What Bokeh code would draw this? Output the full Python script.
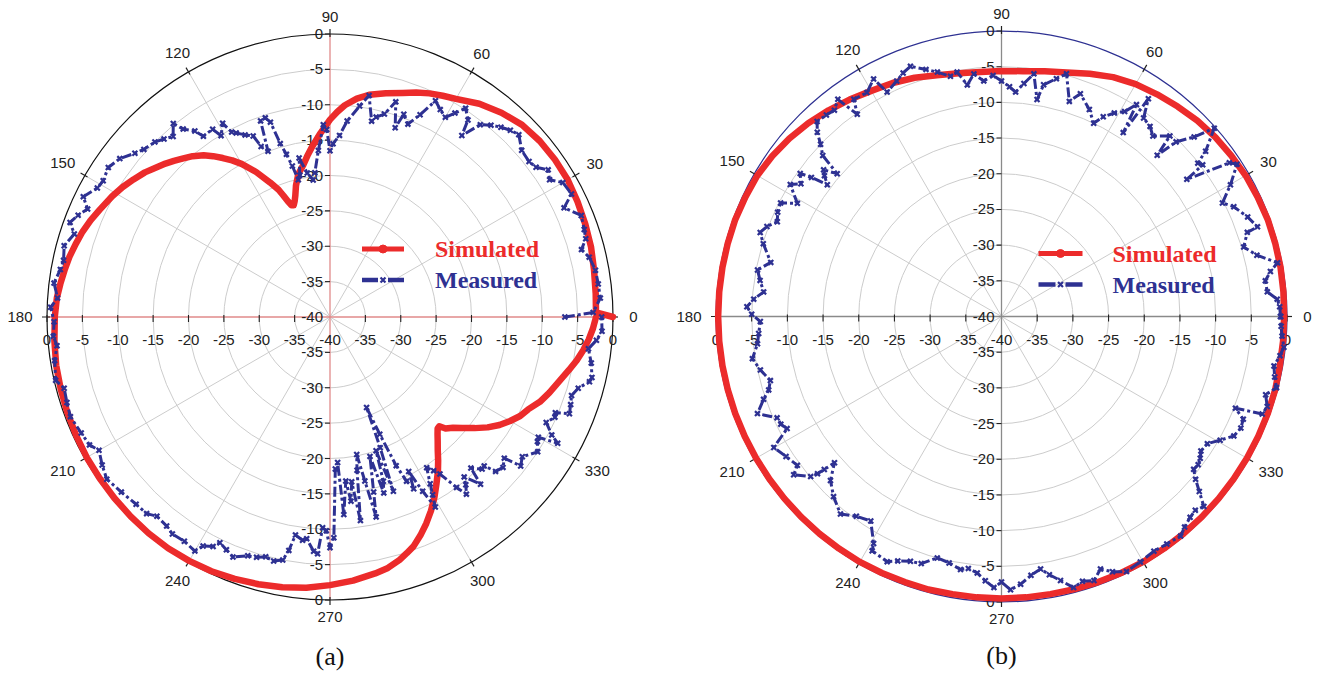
import numpy as np
from bokeh.plotting import figure
from bokeh.layouts import row
from bokeh.models import Range1d
from bokeh.embed import file_html
from bokeh.resources import INLINE
from bokeh.core.properties import value

RED = "#ec2b2b"
NAVY = "#2e3192"
DB_MIN = -40

ring_db = [-35, -30, -25, -20, -15, -10, -5]
radial_tick_db = [0, -5, -10, -15, -20, -25, -30, -35]
radial_tick_labels = ["0", "-5", "-10", "-15", "-20", "-25", "-30", "-35"]
center_label = "-40"
angle_ticks = [0, 30, 60, 90, 120, 150, 180, 210, 240, 270, 300, 330]
angle_tick_labels = ["0", "30", "60", "90", "120", "150", "180", "210", "240", "270", "300", "330"]
spoke_angles = [30, 60, 120, 150]
legend_labels = ["Simulated", "Measured"]
captions = ["(a)", "(b)"]

# ---------------- (a) ----------------
sim_a_ang = [0, 1, 5, 10, 15, 20, 25, 30, 35, 40, 45, 50, 55, 60, 63, 66, 69, 72, 76, 80, 83, 86,
             88, 90, 93, 96, 98, 100, 102.5, 104.5, 106, 107, 108, 109, 110, 111, 112, 114, 117,
             120, 122, 124, 126, 128, 130.5, 133, 135, 137, 140, 142, 145, 148, 151, 155, 158, 161,
             164, 167, 170, 173, 176, 180, 185, 190, 195, 200, 205, 210, 215, 220, 225, 230, 235,
             240, 245, 250, 255, 260, 265, 270, 275, 280, 283, 286, 288, 290, 292.5, 295, 297.5,
             300, 302.5, 305, 307, 309, 311, 312.5, 314, 315, 316, 318, 320, 322.5, 325, 327.5,
             330, 332.5, 335, 338, 341, 344.5, 347.5, 350, 352.5, 355, 357.5, 360]
sim_a_db = [0.0, -2.4, -2.3, -2.1, -1.8, -1.6, -1.4, -1.2, -1.2, -1.3, -1.6, -2.3, -3.2, -4.4,
            -4.9, -5.4, -6.0, -6.7, -7.4, -8.1, -8.9, -10.0, -11.0, -12.1, -14.0, -15.8, -17.0,
            -18.2, -19.3, -20.8, -22.2, -22.9, -23.4, -23.3, -22.6, -21.6, -20.6, -19.2, -17.0,
            -15.0, -13.9, -12.9, -11.9, -11.0, -10.1, -9.4, -8.8, -8.2, -7.4, -6.8, -6.1, -5.4,
            -4.8, -4.1, -3.5, -3.0, -2.6, -2.2, -1.9, -1.6, -1.3, -1.1, -0.9, -0.7, -0.6, -0.5,
            -0.4, -0.3, -0.25, -0.2, -0.15, -0.1, -0.1, -0.2, -0.35, -0.6, -0.9, -1.2, -1.6, -2.1,
            -2.6, -3.2, -3.6, -4.3, -4.9, -5.5, -6.6, -7.8, -9.1, -10.5, -12.0, -13.4, -14.6,
            -15.8, -16.8, -17.5, -18.1, -18.15, -17.3, -16.6, -15.6, -14.2, -12.8, -11.6, -10.6,
            -9.7, -9.1, -8.0, -7.2, -6.3, -5.4, -4.6, -3.9, -3.3, -2.8, -2.4]

meas_a_ang = [0, 1, 4, 7, 10, 13, 15, 17, 19, 22, 25, 27, 30, 32, 34, 36, 38, 41, 44, 46, 48, 50,
              52, 54, 55, 57, 58.5, 60, 62, 64, 66, 68, 70, 71, 73, 75, 77, 78, 80, 82, 85, 87, 89,
              90, 91, 92, 94, 96, 97, 99, 101, 102, 103, 104, 105, 106, 107, 108, 109.5, 110.5,
              112, 113, 115, 117, 118, 119, 121, 122, 125, 126, 128, 129, 131, 133, 135, 138, 140,
              143, 146, 149, 151, 154, 156, 158, 160, 162, 165, 168, 170, 173, 176, 178, 181, 184,
              186, 189, 193, 195, 198, 201, 205, 208, 210, 213, 216, 220, 224, 227, 229, 232, 234,
              237, 240, 241, 243, 244, 246, 248, 251, 253, 255, 257, 259, 260, 261, 263, 264, 266,
              267, 268, 269, 270, 271, 272, 273, 274, 275.5, 276.5, 277.5, 278.5, 280, 281, 282,
              283, 284, 286, 287, 288, 289, 290, 291, 292, 293, 294, 295, 296, 297, 298, 299, 300,
              301, 302.7, 304, 305, 306.6, 307.6, 309, 310, 312, 313, 315, 316, 317, 319, 321, 322,
              324, 327, 329, 330, 331, 332, 334, 336, 337, 338, 340, 342, 344, 346, 347, 350, 353,
              355, 357, 360]
meas_a_db = [-6.8, -2.8, -1.7, -1.8, -1.9, -2.4, -3.2, -2.2, -2.0, -1.7, -3.5, -1.7, -2.0, -3.4,
             -2.8, -4.0, -4.3, -4.1, -2.9, -3.3, -3.9, -4.6, -5.5, -8.3, -6.0, -4.8, -6.2, -7.4,
             -6.8, -6.0, -8.7, -10.6, -9.5, -11.7, -8.2, -10.3, -11.0, -11.7, -8.2, -9.9, -12.2,
             -14.3, -15.5, -16.5, -13.5, -12.8, -16.4, -19.5, -20.5, -19.4, -17.1, -19.5, -20.1,
             -18.0, -16.2, -14.5, -11.2, -10.4, -10.6, -15.0, -14.0, -12.2, -11.6, -10.8, -10.4,
             -8.7, -10.1, -8.7, -8.8, -7.5, -6.3, -4.8, -6.2, -5.6, -5.0, -4.6, -4.0, -2.8, -2.2,
             -2.6, -2.4, -1.2, -2.5, -1.6, -0.9, -2.0, -1.1, -1.5, -1.3, -0.7, -1.4, -0.5, -1.0,
             -0.8, -1.2, -0.6, -0.2, -1.1, -0.9, -0.7, -1.2, -1.5, -2.3, -1.6, -1.0, -1.5, -1.9,
             -2.0, -2.7, -2.5, -2.1, -2.2, -1.8, -3.0, -3.6, -4.5, -4.0, -3.4, -4.3, -4.5, -4.9,
             -4.6, -5.0, -6.5, -8.8, -8.2, -8.5, -6.8, -6.5, -10.2, -9.8, -7.4, -8.8, -18.5, -19.4,
             -12.0, -16.7, -13.8, -16.5, -10.9, -18.0, -20.2, -16.3, -11.0, -14.5, -19.5, -14.0,
             -15.6, -20.0, -13.8, -20.2, -26.2, -22.0, -17.0, -14.4, -13.0, -15.5, -12.1, -9.3,
             -11.0, -12.5, -14.7, -13.8, -12.9, -10.0, -8.4, -9.5, -10.5, -8.2, -10.8, -9.6, -9.7,
             -8.0, -7.6, -8.3, -5.8, -6.4, -5.0, -5.8, -6.0, -3.2, -4.5, -6.0, -5.2, -5.4, -3.5,
             -3.8, -4.1, -3.5, -2.2, -2.0, -2.5, -3.2, -2.2, -1.5, -1.6]

# ---------------- (b) ----------------
sim_b_ang = [0, 5, 10, 15, 20, 25, 30, 35, 40, 45, 50, 55, 60, 65, 70, 75, 80, 85, 90, 95, 100,
             105, 110, 115, 120, 125, 130, 135, 140, 145, 150, 155, 160, 165, 170, 175, 180, 185,
             190, 195, 200, 205, 210, 215, 220, 225, 230, 235, 240, 245, 250, 255, 260, 265, 270,
             275, 280, 285, 290, 295, 300, 305, 310, 315, 320, 325, 330, 335, 340, 345, 350, 355,
             360]
sim_b_db = [-0.4, -0.35, -0.3, -0.3, -0.3, -0.4, -0.5, -0.7, -0.9, -1.2, -1.6, -2.0, -2.4, -3.0,
            -3.8, -4.6, -5.1, -5.5, -5.6, -5.6, -5.4, -5.0, -4.4, -3.9, -3.5, -2.9, -2.3, -1.7,
            -1.2, -0.8, -0.5, -0.4, -0.3, -0.3, -0.3, -0.3, -0.3, -0.3, -0.3, -0.3, -0.3, -0.3,
            -0.3, -0.3, -0.3, -0.3, -0.3, -0.3, -0.3, -0.35, -0.4, -0.4, -0.5, -0.5, -0.5, -0.5,
            -0.5, -0.45, -0.4, -0.35, -0.3, -0.3, -0.3, -0.3, -0.3, -0.3, -0.3, -0.3, -0.3, -0.3,
            -0.4, -0.4, -0.4]

meas_b_ang = [0, 2, 3.6, 5.3, 7.7, 9.5, 11, 13.5, 16, 18.9, 19.3, 22, 25.3, 27.2, 29.9, 32.9, 34,
              36.5, 37, 38, 39, 41.5, 43, 45, 46, 47, 50, 52, 54.4, 56, 56.5, 57.5, 59, 61, 63,
              64.5, 67, 70.5, 72.5, 75, 77, 79.7, 80.7, 82.4, 84.5, 86.4, 88, 90, 92, 94.3, 96.5,
              98.4, 100.3, 102, 104.7, 107, 110, 112, 114, 117, 118.3, 121, 124.2, 125.5, 127, 129,
              131, 133.4, 135, 136.4, 138, 139, 140.5, 141.5, 142.9, 143.8, 144.6, 146.5, 148, 151,
              152.8, 155, 157.1, 159, 160.8, 163, 166.8, 169.2, 171.5, 174.1, 176, 177.8, 179.5,
              181.2, 184, 186.4, 189.6, 192.5, 195.5, 197.5, 199.2, 201.7, 204.3, 206, 207.6, 209.9,
              213, 216.1, 217.3, 220, 220.5, 220.8, 221.2, 223.8, 227, 230.8, 234, 237.4, 240.6,
              241.1, 245, 247, 249.6, 252, 255.1, 258, 260.8, 262.5, 264.6, 266.5, 268.4, 270,
              271.9, 274.1, 276.5, 278.8, 280.5, 282.6, 284.9, 287, 289.3, 291.4, 293.5, 296.1,
              299.5, 303, 306, 309.2, 311, 313.2, 315, 316.8, 318.5, 320, 321.5, 323, 324.5, 326,
              328.3, 330.5, 332.8, 335, 337, 338.6, 339.5, 341.3, 343.5, 345.5, 347.5, 349.7, 352,
              353.8, 356, 358, 360]
meas_b_db = [-0.9, -1.0, -1.3, -2.6, -2.7, -1.8, -0.6, -3.2, -4.7, -3.6, -2.0, -2.8, -4.0, -5.2,
             -3.0, -0.7, -1.5, -7.7, -4.7, -5.1, -3.2, -0.2, -3.1, -5.4, -8.6, -5.4, -7.0, -6.2,
             -5.8, -3.2, -9.1, -4.8, -6.5, -7.4, -8.6, -10.0, -8.5, -6.9, -8.4, -4.8, -5.8, -7.0,
             -9.2, -5.7, -7.2, -8.5, -7.8, -7.0, -6.2, -6.9, -5.8, -7.2, -5.2, -5.6, -4.6, -3.8,
             -2.7, -3.2, -3.9, -4.7, -2.2, -3.4, -3.2, -5.2, -1.9, -2.8, -2.6, -2.4, -3.5, -5.0,
             -6.3, -9.5, -7.7, -8.3, -9.4, -7.0, -5.4, -6.3, -5.1, -7.3, -5.2, -5.4, -5.9, -4.8,
             -4.2, -5.1, -6.8, -5.2, -5.8, -6.5, -5.2, -4.3, -5.0, -6.2, -5.9, -5.6, -4.6, -5.4,
             -6.4, -5.8, -4.7, -3.2, -5.5, -5.6, -6.1, -3.2, -4.0, -4.6, -3.4, -5.1, -6.1, -7.2,
             -8.9, -6.8, -5.5, -4.3, -5.4, -6.0, -3.5, -2.5, -2.1, -2.8, -3.4, -3.6, -5.0, -4.7,
             -4.1, -4.4, -3.9, -2.9, -2.0, -2.8, -1.7, -2.4, -3.5, -4.2, -3.2, -2.1, -0.7, -1.2,
             -0.8, -2.0, -1.0, -0.2, -0.5, -0.8, -0.6, -0.3, -0.9, -1.4, -1.6, -1.1, -3.0, -4.5,
             -5.6, -5.5, -5.8, -6.3, -6.1, -4.8, -3.4, -3.0, -3.2, -4.8, -1.0, -0.7, -1.4, -0.2,
             -0.8, -1.2, -0.6, -0.2, -0.6, -0.8, -0.9]


def to_xy(ang, db):
    a = np.radians(np.asarray(ang, dtype=float))
    r = np.clip(np.asarray(db, dtype=float) - DB_MIN, 0, None)
    return r * np.cos(a), r * np.sin(a)


def panel(W, H, cx, cy, R, sim, meas, axis_color, outer_color, leg, caption):
    s = R / float(-DB_MIN)  # pixels per dB
    px = lambda v: v / s
    p = figure(width=W, height=H, x_range=Range1d(-cx / s, (W - cx) / s),
               y_range=Range1d(-(H - cy) / s, cy / s), output_backend="svg",
               toolbar_location=None, x_axis_type=None, y_axis_type=None, min_border=0)
    p.outline_line_color = None
    p.background_fill_color = "white"
    p.border_fill_color = "white"
    Rd = float(-DB_MIN)

    # rings
    rr = [d - DB_MIN for d in ring_db]
    p.circle(x=[0] * len(rr), y=[0] * len(rr), radius=rr, fill_color=None,
             line_color="#cccccc", line_width=1)
    # spokes
    xs, ys = [], []
    for a in spoke_angles:
        t = np.radians(a)
        xs.append([Rd * np.cos(t), -Rd * np.cos(t)])
        ys.append([Rd * np.sin(t), -Rd * np.sin(t)])
    p.multi_line(xs=xs, ys=ys, line_color="#cccccc", line_width=1)
    # axes through the centre
    p.segment(x0=[-Rd, 0], y0=[0, -Rd], x1=[Rd, 0], y1=[0, Rd], line_color=axis_color, line_width=1.3)
    # outer circle
    p.circle(x=[0], y=[0], radius=[Rd], fill_color=None, line_color=outer_color, line_width=1.2)
    # angular ticks
    t = np.radians(angle_ticks)
    r0, r1 = Rd - px(3), Rd + px(5)
    p.segment(x0=r0 * np.cos(t), y0=r0 * np.sin(t), x1=r1 * np.cos(t), y1=r1 * np.sin(t),
              line_color="#222222", line_width=1.2)
    # angular labels
    lx, ly = [], []
    for a, lab in zip(angle_ticks, angle_tick_labels):
        w = 8.3 * len(lab)
        off = 17 + 0.4 * w * abs(np.cos(np.radians(a)))
        rl = Rd + px(off)
        lx.append(rl * np.cos(np.radians(a)))
        ly.append(rl * np.sin(np.radians(a)))
    p.text(x=lx, y=ly, text=angle_tick_labels, text_font=value("Liberation Sans"),
           text_font_size="15px", text_align="center", text_baseline="middle", text_color="#222222")

    # radial ticks on the axes
    rpos = [d - DB_MIN for d in radial_tick_db]
    hx = [-r for r in rpos] + [r for r in rpos]
    p.segment(x0=hx, y0=[px(2)] * len(hx), x1=hx, y1=[-px(5)] * len(hx), line_color="#222222", line_width=1.1)
    vy = [r for r in rpos] + [-r for r in rpos]
    p.segment(x0=[-px(5)] * len(vy), y0=vy, x1=[0] * len(vy), y1=vy, line_color="#222222", line_width=1.1)
    # radial labels: horizontal axis
    hl = radial_tick_labels + radial_tick_labels + [center_label]
    p.text(x=hx + [0], y=[-px(23)] * (len(hx) + 1), text=hl, text_font=value("Liberation Sans"),
           text_font_size="15px", text_align="center", text_baseline="middle", text_color="#222222")
    # radial labels: vertical axis
    p.text(x=[-px(7)] * (len(vy) + 1), y=vy + [0], text=hl, text_font=value("Liberation Sans"),
           text_font_size="15px", text_align="right", text_baseline="middle", text_color="#222222")

    # simulated
    sx, sy = to_xy(*sim)
    p.line(sx, sy, line_color=RED, line_width=6.5, line_join="round", line_cap="round")
    # measured
    mx, my = to_xy(*meas)
    p.line(mx, my, line_color=NAVY, line_width=3, line_dash="10 3 3 3", line_join="round")
    p.scatter(mx, my, marker="x", size=7, line_color=NAVY, line_width=2.2)

    # legend
    lx0, lx1, ly_s, ly_m, tx = leg
    xm = (lx0 + lx1) / 2
    p.segment(x0=[px(lx0)], y0=[px(ly_s)], x1=[px(lx1)], y1=[px(ly_s)], line_color=RED, line_width=5)
    p.scatter(x=[px(xm)], y=[px(ly_s)], marker="circle", size=8, fill_color=RED, line_color=RED)
    p.segment(x0=[px(lx0), px(xm + 5)], y0=[px(ly_m)] * 2, x1=[px(xm - 5), px(lx1)], y1=[px(ly_m)] * 2,
              line_color=NAVY, line_width=4.5)
    p.scatter(x=[px(xm)], y=[px(ly_m)], marker="x", size=7, line_color=NAVY, line_width=2.2)
    p.text(x=[px(tx)], y=[px(ly_s)], text=[legend_labels[0]], text_font=value("Liberation Serif"),
           text_font_style="bold", text_font_size="24px", text_color=RED, text_align="left",
           text_baseline="middle")
    p.text(x=[px(tx)], y=[px(ly_m)], text=[legend_labels[1]], text_font=value("Liberation Serif"),
           text_font_style="bold", text_font_size="24px", text_color=NAVY, text_align="left",
           text_baseline="middle")
    # caption
    p.text(x=[0], y=[-px(339)], text=[caption], text_font=value("Liberation Serif"),
           text_font_size="26px", text_color="#111111", text_align="center", text_baseline="middle")
    return p


pa = panel(662, 673, 329.5, 316.5, 283.0, (sim_a_ang, sim_a_db), (meas_a_ang, meas_a_db),
           "#e08a8a", "#111111", (32, 74, 68, 37, 105), captions[0])
pb = panel(663, 673, 339.0, 316.0, 285.5, (sim_b_ang, sim_b_db), (meas_b_ang, meas_b_db),
           "#8a8a8a", NAVY, (37, 81, 63, 32, 111), captions[1])

layout = row(pa, pb)
open("out.html", "w").write(file_html(layout, INLINE))
